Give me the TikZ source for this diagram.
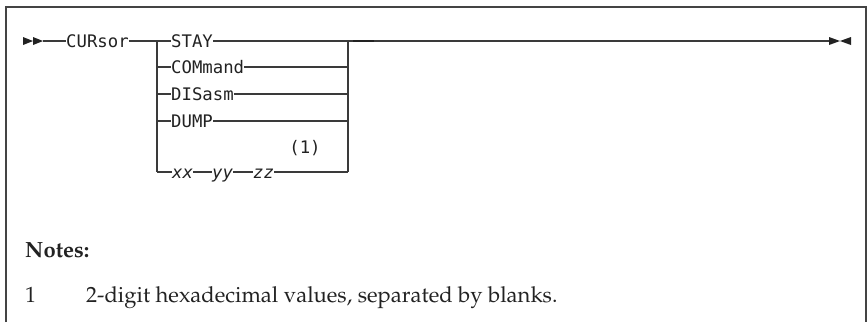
\documentclass[tikz,border=0pt]{standalone}
\usepackage[T1]{fontenc}
\usepackage{fontspec}
\setmonofont{DejaVu Sans Mono}
\newcommand\palfont{\fontencoding{T1}\fontfamily{ppl}\selectfont}
\definecolor{linec}{HTML}{3A3A3A}
\definecolor{textc}{HTML}{222222}
\definecolor{framec}{HTML}{444444}
\begin{document}
\begin{tikzpicture}[x=1pt,y=-1pt,
  rr/.style={draw=linec,line width=1.1pt},
  kw/.style={font=\ttfamily\fontsize{17.3}{20}\selectfont,text=textc,inner sep=0pt,anchor=base west},
  var/.style={kw,font=\ttfamily\itshape\fontsize{17.3}{20}\selectfont},
  tip/.style={fill=textc,draw=none},
  note/.style={font=\palfont\fontsize{22}{26}\selectfont,text=textc,inner sep=0pt,anchor=base west},
  noteb/.style={note,font=\palfont\bfseries\fontsize{22}{26}\selectfont}]
\useasboundingbox (0,0) rectangle (868,322);
\fill[white] (0,0) rectangle (868,322);
% frame
\draw[framec,line width=1.3pt] (6,322) -- (6,7) -- (866,7) -- (866,322);
% start marker
\fill[tip] (23,37) -- (33,41) -- (23,45) -- cycle;
\fill[tip] (33,37) -- (43,41) -- (33,45) -- cycle;
\coordinate (s0) at (43,41);
\node[kw] (cur) at (66,47) {CURsor};
\draw[rr] (s0) -- (s0 -| cur.west);
% junctions
\coordinate (l1) at (157,41);
\coordinate (l2) at (157,67);
\coordinate (l3) at (157,94);
\coordinate (l4) at (157,121);
\coordinate (l5) at (157,172);
\coordinate (r1) at (348,41);
\coordinate (r2) at (348,67);
\coordinate (r3) at (348,94);
\coordinate (r4) at (348,121);
\coordinate (r5) at (348,172);
\draw[rr] (cur.east |- l1) -- (l1);
\draw[rr] (l1) -- (l5);
\draw[rr] (r1) -- (r5);
% choices
\node[kw] (stay) at (171,47) {STAY};
\node[kw] (com) at (171,73) {COMmand};
\node[kw] (dis) at (171,100) {DISasm};
\node[kw] (dump) at (171,127) {DUMP};
\node[var] (xx) at (172,178) {xx};
\node[var] (yy) at (212,178) {yy};
\node[var] (zz) at (253,178) {zz};
\node[kw,anchor=center] (n1) at (305,148) {(1)};
\draw[rr] (l1) -- (l1 -| stay.west);
\draw[rr] (stay.east |- l1) -- (r1);
\draw[rr] (l2) -- (l2 -| com.west);
\draw[rr] (com.east |- l2) -- (r2);
\draw[rr] (l3) -- (l3 -| dis.west);
\draw[rr] (dis.east |- l3) -- (r3);
\draw[rr] (l4) -- (l4 -| dump.west);
\draw[rr] (dump.east |- l4) -- (r4);
\draw[rr] (l5) -- (l5 -| xx.west);
\draw[rr] (xx.east |- l5) -- (l5 -| yy.west);
\draw[rr] (yy.east |- l5) -- (l5 -| zz.west);
\draw[rr] (zz.east |- l5) -- (r5);
% continuation to end
\coordinate (e0) at (829,41);
\draw[rr] (r1) -- (e0);
\draw[textc,line width=2pt] (353,41) -- (374,41);
\fill[tip] (829,37) -- (840,41) -- (829,45) -- cycle;
\fill[tip] (851,37) -- (840,41) -- (851,45) -- cycle;
% notes
\node[noteb] (notes) at (25,257) {Notes:};
\node[note] (num) at (25,302) {1};
\node[note] (ntext) at (86,302) {2-digit hexadecimal values, separated by blanks.};
\end{tikzpicture}
\end{document}
